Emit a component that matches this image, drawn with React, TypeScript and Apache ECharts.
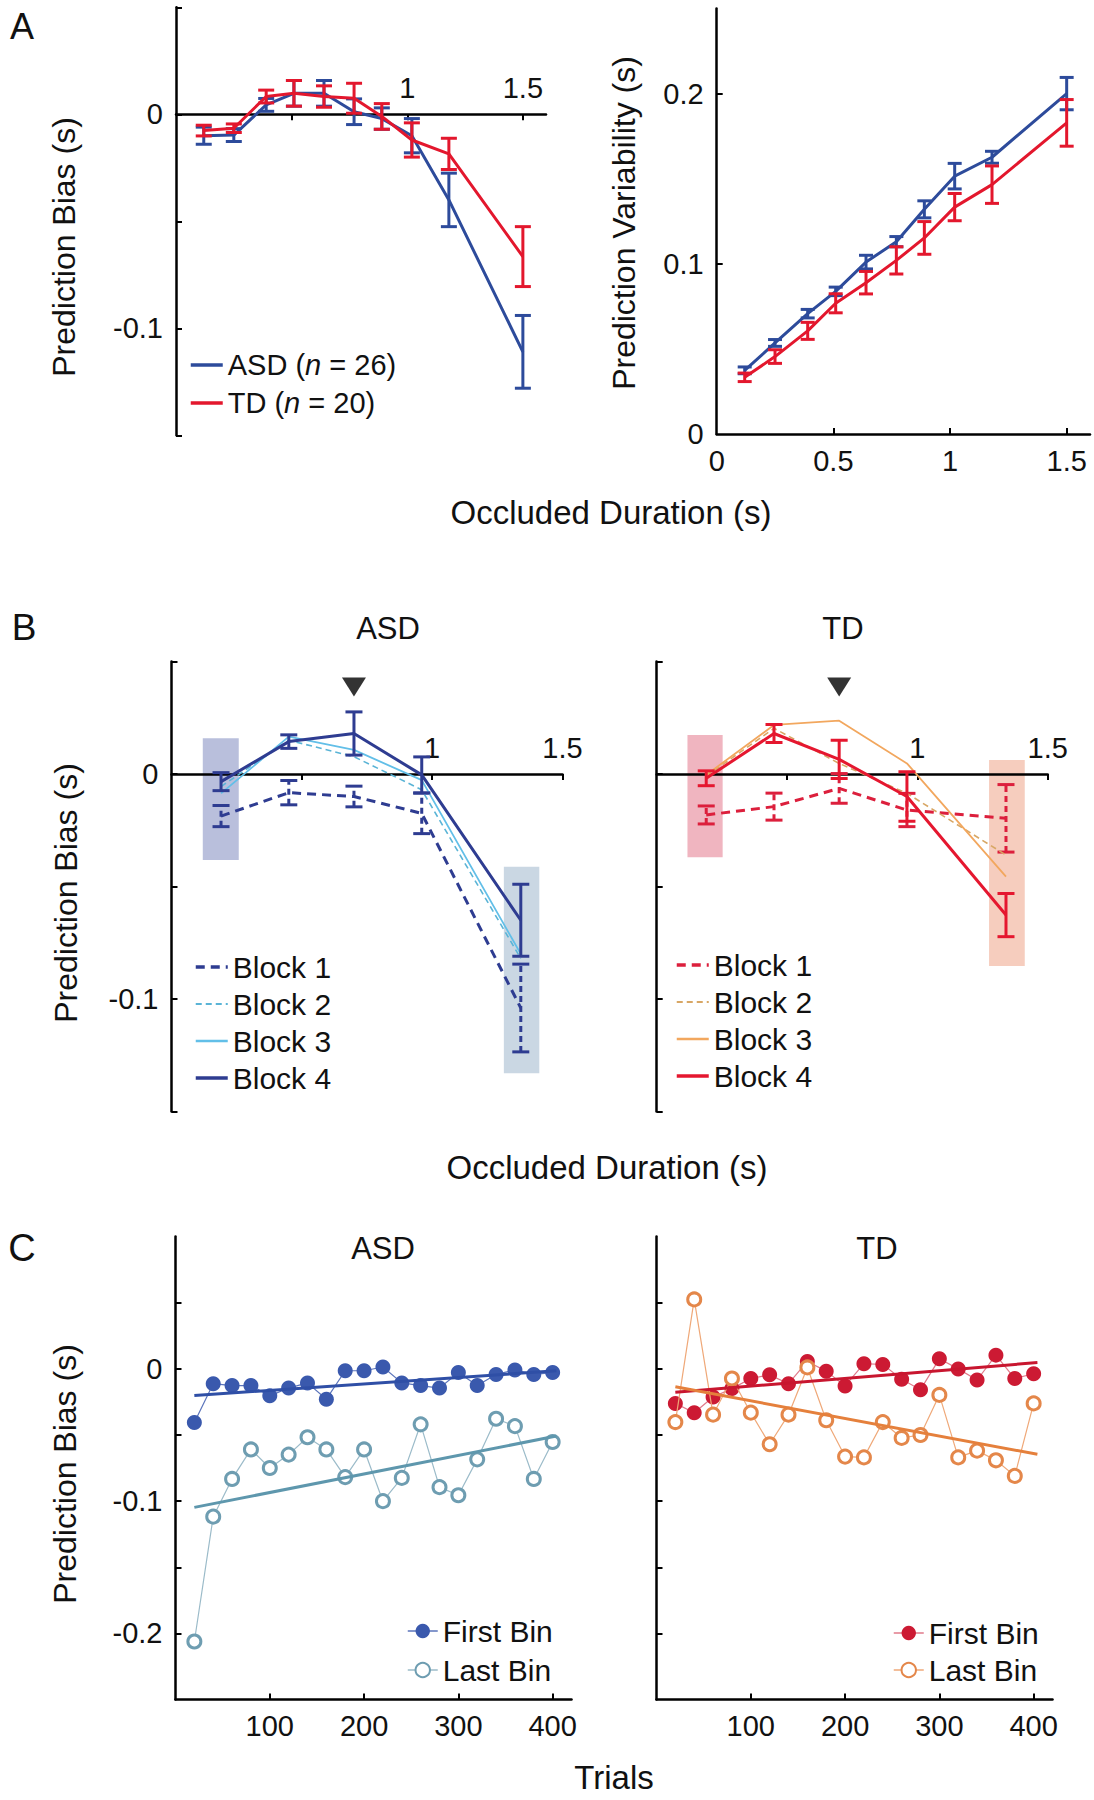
import React, { useEffect, useRef } from 'react';
import * as echarts from 'echarts';

const FONT = '"Liberation Sans", Arial, Helvetica, sans-serif';

// ---------- Panel A ----------
const durations = [0.12, 0.25, 0.39, 0.51, 0.64, 0.77, 0.89, 1.02, 1.18, 1.5];
const asdBias = [-0.01, -0.0097, 0.0044, 0.0098, 0.0098, 0.0012, -0.002, -0.01, -0.04, -0.111];
const asdBiasErr = [0.004, 0.003, 0.003, 0.006, 0.006, 0.006, 0.005, 0.008, 0.0125, 0.017];
const tdBias = [-0.0076, -0.0065, 0.0083, 0.0098, 0.0083, 0.0075, -0.001, -0.012, -0.0185, -0.0665];
const tdBiasErr = [0.0025, 0.002, 0.003, 0.006, 0.005, 0.007, 0.006, 0.008, 0.0073, 0.014];
const asdVar = [0.0374, 0.0535, 0.0707, 0.0838, 0.101, 0.113, 0.132, 0.1515, 0.1626, 0.2];
const asdVarErr = [0.002, 0.002, 0.0025, 0.0025, 0.004, 0.003, 0.005, 0.0075, 0.0035, 0.0095];
const tdVar = [0.0333, 0.0455, 0.0606, 0.0768, 0.0889, 0.102, 0.1152, 0.1333, 0.1465, 0.1828];
const tdVarErr = [0.0025, 0.004, 0.005, 0.0056, 0.0066, 0.008, 0.0096, 0.008, 0.011, 0.0137];

// ---------- Panel B ----------
const blockDur = [0.19, 0.45, 0.7, 0.96, 1.34];
const asdBlock1 = [-0.0187, -0.0083, -0.01, -0.0175, -0.104];
const asdBlock1Err = [0.0047, 0.0054, 0.0046, 0.009, 0.0195];
const asdBlock2 = [-0.0056, 0.015, 0.0077, -0.007, -0.082];
const asdBlock3 = [-0.0086, 0.0166, 0.0107, -0.0027, -0.08];
const asdBlock4 = [-0.0034, 0.0144, 0.018, -0.0004, -0.065];
const asdBlock4Err = [0.004, 0.003, 0.0096, 0.008, 0.016];
const tdBlock1 = [-0.0182, -0.0145, -0.0064, -0.016, -0.0197];
const tdBlock1Err = [0.004, 0.006, 0.0066, 0.0074, 0.015];
const tdBlock2 = [-0.001, 0.0203, 0.0047, -0.0086, -0.036];
const tdBlock3 = [-0.0004, 0.0218, 0.0237, 0.0047, -0.0456];
const tdBlock4 = [-0.0019, 0.018, 0.0065, -0.01, -0.0627];
const tdBlock4Err = [0.0033, 0.004, 0.0085, 0.011, 0.0096];
// highlighted boxes: [x0, x1, yTop, yBottom]
const asdBoxes = [[0.12, 0.258, 0.0159, -0.0382], [1.275, 1.411, -0.0412, -0.133]];
const tdBoxes = [[0.118, 0.253, 0.0173, -0.037], [1.275, 1.412, 0.0062, -0.0853]];
const arrowMark = [[0.7, 0.0387]];

// ---------- Panel C ----------
const trials = [20, 40, 60, 80, 100, 120, 140, 160, 180, 200, 220, 240, 260, 280, 300, 320, 340, 360, 380, 400];
const asdFirst = [-0.0405, -0.0112, -0.0126, -0.0126, -0.0204, -0.0145, -0.0106, -0.0229, -0.0014, -0.0014, 0.0014, -0.0106, -0.0126, -0.0145, -0.0028, -0.0126, -0.0042, -0.0008, -0.0042, -0.0028];
const asdLast = [-0.2061, -0.1117, -0.0832, -0.0609, -0.0749, -0.0648, -0.0517, -0.0609, -0.0818, -0.0609, -0.1, -0.0824, -0.0419, -0.0894, -0.0955, -0.0684, -0.0377, -0.0433, -0.0832, -0.0553];
const tdFirst = [-0.0261, -0.0331, -0.0213, -0.0149, -0.0073, -0.0045, -0.0112, 0.0056, -0.0017, -0.0129, 0.0039, 0.0034, -0.0079, -0.0157, 0.0076, 0, -0.0084, 0.0104, -0.0073, -0.0037];
const tdLast = [-0.0402, 0.0525, -0.0346, -0.0073, -0.0331, -0.057, -0.0346, 0.0011, -0.0388, -0.0663, -0.0669, -0.0402, -0.0522, -0.05, -0.0197, -0.0669, -0.0618, -0.0691, -0.0809, -0.0261];
const trendX = [20, 404];
const asdFirstTrend = [-0.0201, -0.0014];
const asdLastTrend = [-0.1047, -0.0508];
const tdFirstTrend = [-0.0177, 0.0048];
const tdLastTrend = [-0.0135, -0.0646];

// ---------- colours ----------
const C_ASD = '#2D4B9B';
const C_TD = '#E3172D';
const C_NAVY = '#2E3C91';
const C_LB2 = '#5AB4D6';
const C_LB3 = '#62BFE8';
const C_RED4 = '#E5172F';
const C_RED1 = '#DC1F3C';
const C_OR2 = '#D8A765';
const C_OR3 = '#F2A75E';

const zip = (xs: number[], ys: number[]) => xs.map((x, i) => [x, ys[i]]);

const AXIS_LINE = { show: true, lineStyle: { color: '#000', width: 2.5 } };
const TICK_STYLE = { color: '#000', width: 2 };
const LABEL = { color: '#111', fontSize: 29, fontFamily: FONT };

function errorBars(xs: number[], ys: number[], errs: number[], g: number, color: string, capW: number, dashed: boolean, z: number) {
  return {
    type: 'custom',
    xAxisIndex: g,
    yAxisIndex: g,
    z,
    silent: true,
    data: xs.map((x, i) => [x, ys[i] - errs[i], ys[i] + errs[i]]),
    encode: { x: 0, y: [1, 2] },
    renderItem: (_p: any, api: any) => {
      const lo = api.coord([api.value(0), api.value(1)]);
      const hi = api.coord([api.value(0), api.value(2)]);
      const vStyle: any = { stroke: color, lineWidth: 3 };
      if (dashed) vStyle.lineDash = [6, 4];
      const cStyle = { stroke: color, lineWidth: 3 };
      return {
        type: 'group',
        children: [
          { type: 'line', shape: { x1: lo[0], y1: lo[1], x2: hi[0], y2: hi[1] }, style: vStyle },
          { type: 'line', shape: { x1: lo[0] - capW / 2, y1: lo[1], x2: lo[0] + capW / 2, y2: lo[1] }, style: cStyle },
          { type: 'line', shape: { x1: hi[0] - capW / 2, y1: hi[1], x2: hi[0] + capW / 2, y2: hi[1] }, style: cStyle },
        ],
      };
    },
  };
}

function boxes(data: number[][], colors: string[], g: number) {
  return {
    type: 'custom',
    xAxisIndex: g,
    yAxisIndex: g,
    z: 0,
    silent: true,
    data,
    encode: { x: [0, 1], y: [2, 3] },
    renderItem: (p: any, api: any) => {
      const a = api.coord([api.value(0), api.value(2)]);
      const b = api.coord([api.value(1), api.value(3)]);
      return { type: 'rect', shape: { x: a[0], y: a[1], width: b[0] - a[0], height: b[1] - a[1] }, style: { fill: colors[p.dataIndex] } };
    },
  };
}

function line(name: string, xs: number[], ys: number[], g: number, color: string, width: number, dash: any, z: number) {
  return {
    type: 'line',
    name,
    xAxisIndex: g,
    yAxisIndex: g,
    data: zip(xs, ys),
    symbol: 'none',
    z,
    lineStyle: { color, width, type: dash || 'solid' },
    itemStyle: { color },
    emphasis: { disabled: true },
  };
}

// x axis drawn on the zero line with labels above it
function xAxisBiasTop(g: number, max: number, offset: number) {
  return {
    gridIndex: g,
    type: 'value',
    min: 0,
    max,
    position: 'top',
    offset,
    axisLine: { ...AXIS_LINE, onZero: false },
    axisTick: { show: true, inside: true, length: 6, lineStyle: TICK_STYLE, customValues: [0.5, 1, 1.5] },
    axisLabel: { ...LABEL, margin: 12, customValues: [1, 1.5], formatter: (v: number) => String(v) },
    splitLine: { show: false },
  };
}

function yAxisBias(g: number, labels: boolean) {
  return {
    gridIndex: g,
    type: 'value',
    min: -0.15,
    max: 0.05,
    axisLine: { ...AXIS_LINE, onZero: false },
    axisTick: { show: true, inside: true, length: 6, lineStyle: TICK_STYLE, customValues: [-0.15, -0.1, -0.05, 0, 0.05] },
    axisLabel: { ...LABEL, show: labels, margin: 13, customValues: [-0.1, 0], formatter: (v: number) => (Math.abs(v) < 1e-9 ? '0' : '-0.1') },
    splitLine: { show: false },
  };
}

function xAxisTrials(g: number) {
  return {
    gridIndex: g,
    type: 'value',
    min: 0,
    max: 420,
    axisLine: { ...AXIS_LINE, onZero: false },
    axisTick: { show: true, inside: true, length: 6, lineStyle: TICK_STYLE, customValues: [100, 200, 300, 400] },
    axisLabel: { ...LABEL, margin: 12, customValues: [100, 200, 300, 400] },
    splitLine: { show: false },
  };
}

function yAxisTrials(g: number, labels: boolean) {
  return {
    gridIndex: g,
    type: 'value',
    min: -0.25,
    max: 0.1,
    axisLine: { ...AXIS_LINE, onZero: false },
    axisTick: { show: true, inside: true, length: 6, lineStyle: TICK_STYLE, customValues: [-0.2, -0.15, -0.1, -0.05, 0, 0.05] },
    axisLabel: {
      ...LABEL,
      show: labels,
      margin: 13,
      customValues: [-0.2, -0.1, 0],
      formatter: (v: number) => (Math.abs(v) < 1e-9 ? '0' : v < -0.15 ? '-0.2' : '-0.1'),
    },
    splitLine: { show: false },
  };
}

function binSeries(name: string, ys: number[], g: number, color: string, lineColor: string, open: boolean, z: number) {
  return {
    type: 'line',
    name,
    xAxisIndex: g,
    yAxisIndex: g,
    data: zip(trials, ys),
    symbol: 'circle',
    symbolSize: open ? 13 : 15,
    z,
    lineStyle: { color: lineColor, width: 1.2 },
    itemStyle: open ? { color: '#ffffff', borderColor: color, borderWidth: 3 } : { color },
    emphasis: { disabled: true },
  };
}

function txt(text: string, x: number, y: number, size: number, rot = 0) {
  return {
    type: 'text',
    x,
    y,
    rotation: rot,
    silent: true,
    style: { text, fontSize: size, fontFamily: FONT, fill: '#111', align: 'center', verticalAlign: 'middle' },
  };
}

function legend(names: string[], widths: number[], left: number, top: number, gap: number, iw: number, ih: number, prefix: string, lineOnly: boolean) {
  const l: any = {
    show: true,
    orient: 'vertical',
    left,
    top,
    itemGap: gap,
    itemWidth: iw,
    itemHeight: ih,
    selectedMode: false,
    data: names.map((name, i) => ({ name, lineStyle: { width: widths[i] } })),
    padding: 0,
    textStyle: {
      color: '#111',
      fontSize: 30,
      lineHeight: 30,
      fontFamily: FONT,
      rich: {
        a: { fontSize: 29, lineHeight: 30, fontFamily: FONT, color: '#111' },
        i: { fontSize: 29, lineHeight: 30, fontFamily: FONT, color: '#111', fontStyle: 'italic' },
      },
    },
    formatter: (n: string) => {
      const m = n.match(/^(ASD|TD) \(n = (\d+)\)$/);
      if (m) return `{a|${m[1]} (}{i|n}{a| = ${m[2]})}`;
      return prefix ? n.replace(prefix, '') : n;
    },
  };
  if (lineOnly) l.itemStyle = { opacity: 0 };
  return l;
}

export default function App() {
  const ref = useRef<HTMLDivElement>(null);
  useEffect(() => {
    document.body.style.margin = '0';
    if (!ref.current) return;
    const chart = echarts.init(ref.current, null, { renderer: 'svg' });
    const grids = [
      { left: 176, top: 7.3, width: 370, height: 428 },
      { left: 716.7, top: 8.5, width: 373.3, height: 425.5 },
      { left: 171.5, top: 661.5, width: 391, height: 450 },
      { left: 656.7, top: 661.5, width: 391, height: 450 },
      { left: 175.5, top: 1236.6, width: 396, height: 463 },
      { left: 656.5, top: 1236.6, width: 396, height: 463 },
    ].map((g) => ({ ...g, containLabel: false, outerBoundsMode: 'none', show: false }));

    const option: any = {
      animation: false,
      backgroundColor: '#ffffff',
      grid: grids,
      xAxis: [
        xAxisBiasTop(0, 1.6, -107),
        {
          gridIndex: 1,
          type: 'value',
          min: 0,
          max: 1.6,
          axisLine: { ...AXIS_LINE, onZero: false },
          axisTick: { show: true, inside: true, length: 6, lineStyle: TICK_STYLE, customValues: [0.5, 1, 1.5] },
          axisLabel: { ...LABEL, margin: 12, customValues: [0, 0.5, 1, 1.5], formatter: (v: number) => String(v) },
          splitLine: { show: false },
        },
        xAxisBiasTop(2, 1.5, -112.5),
        xAxisBiasTop(3, 1.5, -112.5),
        xAxisTrials(4),
        xAxisTrials(5),
      ],
      yAxis: [
        yAxisBias(0, true),
        {
          gridIndex: 1,
          type: 'value',
          min: 0,
          max: 0.25,
          axisLine: { ...AXIS_LINE, onZero: false },
          axisTick: { show: true, inside: true, length: 6, lineStyle: TICK_STYLE, customValues: [0.1, 0.2] },
          axisLabel: { ...LABEL, margin: 13, customValues: [0, 0.1, 0.2], formatter: (v: number) => String(v) },
          splitLine: { show: false },
        },
        yAxisBias(2, true),
        yAxisBias(3, false),
        yAxisTrials(4, true),
        yAxisTrials(5, false),
      ],
      legend: [
        legend(['ASD (n = 26)', 'TD (n = 20)'], [3.5, 3.5], 189, 350, 8, 32, 14, '', true),
        legend(['Block 1', 'Block 2', 'Block 3', 'Block 4'], [3.5, 2, 2.5, 3.5], 194, 952, 7, 32, 14, '', true),
        legend(['TD Block 1', 'TD Block 2', 'TD Block 3', 'TD Block 4'], [3.5, 2, 2.5, 3.5], 675, 950, 7, 32, 14, 'TD ', true),
        legend(['ASD First Bin', 'ASD Last Bin'], [1.5, 1.5], 407, 1616, 9, 30, 18, 'ASD ', false),
        legend(['TD First Bin', 'TD Last Bin'], [1.5, 1.5], 893, 1618, 7, 30, 18, 'TD ', false),
      ],
      series: [
        // A left
        line('ASD (n = 26)', durations, asdBias, 0, C_ASD, 3, null, 2),
        errorBars(durations, asdBias, asdBiasErr, 0, C_ASD, 16, false, 2),
        line('TD (n = 20)', durations, tdBias, 0, C_TD, 3, null, 3),
        errorBars(durations, tdBias, tdBiasErr, 0, C_TD, 16, false, 3),
        // A right
        line('ASD (n = 26)', durations, asdVar, 1, C_ASD, 3, null, 2),
        errorBars(durations, asdVar, asdVarErr, 1, C_ASD, 14, false, 2),
        line('TD (n = 20)', durations, tdVar, 1, C_TD, 3, null, 3),
        errorBars(durations, tdVar, tdVarErr, 1, C_TD, 14, false, 3),
        // B left
        boxes(asdBoxes, ['#B9BFDC', '#CAD7E3'], 2),
        line('Block 1', blockDur, asdBlock1, 2, C_NAVY, 3, [9, 6], 2),
        errorBars(blockDur, asdBlock1, asdBlock1Err, 2, C_NAVY, 17, true, 2),
        line('Block 2', blockDur, asdBlock2, 2, C_LB2, 1.6, [6, 4], 3),
        line('Block 3', blockDur, asdBlock3, 2, C_LB3, 1.8, null, 4),
        line('Block 4', blockDur, asdBlock4, 2, C_NAVY, 3, null, 5),
        errorBars(blockDur, asdBlock4, asdBlock4Err, 2, C_NAVY, 17, false, 5),
        {
          type: 'scatter', xAxisIndex: 2, yAxisIndex: 2, data: arrowMark, symbol: 'triangle', symbolRotate: 180,
          symbolSize: [24, 19], itemStyle: { color: '#000' }, silent: true, z: 6,
        },
        // B right
        boxes(tdBoxes, ['#F0B5C0', '#F6CDBE'], 3),
        line('TD Block 1', blockDur, tdBlock1, 3, C_RED1, 3, [9, 6], 2),
        errorBars(blockDur, tdBlock1, tdBlock1Err, 3, C_RED1, 17, true, 2),
        line('TD Block 2', blockDur, tdBlock2, 3, C_OR2, 1.6, [6, 4], 3),
        line('TD Block 3', blockDur, tdBlock3, 3, C_OR3, 1.8, null, 4),
        line('TD Block 4', blockDur, tdBlock4, 3, C_RED4, 3, null, 5),
        errorBars(blockDur, tdBlock4, tdBlock4Err, 3, C_RED4, 17, false, 5),
        {
          type: 'scatter', xAxisIndex: 3, yAxisIndex: 3, data: arrowMark, symbol: 'triangle', symbolRotate: 180,
          symbolSize: [24, 19], itemStyle: { color: '#000' }, silent: true, z: 6,
        },
        // C left
        binSeries('ASD First Bin', asdFirst, 4, '#3A59AD', '#5B74BB', false, 3),
        binSeries('ASD Last Bin', asdLast, 4, '#6E9DB1', '#9BBBC9', true, 4),
        line('asd first trend', trendX, asdFirstTrend, 4, '#2F4FA6', 3, null, 5),
        line('asd last trend', trendX, asdLastTrend, 4, '#5E97AD', 3, null, 5),
        // C right
        binSeries('TD First Bin', tdFirst, 5, '#CC1A33', '#E07A8A', false, 3),
        binSeries('TD Last Bin', tdLast, 5, '#E4874A', '#EFA878', true, 4),
        line('td first trend', trendX, tdFirstTrend, 5, '#C8162F', 3, null, 5),
        line('td last trend', trendX, tdLastTrend, 5, '#E5803C', 3, null, 5),
      ],
      graphic: [
        txt('A', 22, 26, 36),
        txt('B', 24, 627, 37),
        txt('C', 22, 1248, 38),
        txt('Prediction Bias (s)', 64, 247, 32, Math.PI / 2),
        txt('Prediction Variability (s)', 624, 223, 32, Math.PI / 2),
        txt('Occluded Duration (s)', 611, 512, 33),
        txt('ASD', 388, 628, 31),
        txt('TD', 843, 628, 31),
        txt('Prediction Bias (s)', 66, 893, 32, Math.PI / 2),
        txt('Occluded Duration (s)', 607, 1167, 33),
        txt('ASD', 383, 1248, 31),
        txt('TD', 877, 1248, 31),
        txt('Prediction Bias (s)', 65, 1474, 32, Math.PI / 2),
        txt('Trials', 614, 1777, 33),
      ],
    };
    chart.setOption(option);
    return () => chart.dispose();
  }, []);
  return <div ref={ref} style={{ width: 1094, height: 1800, position: 'absolute', left: 0, top: 0 }} />;
}
